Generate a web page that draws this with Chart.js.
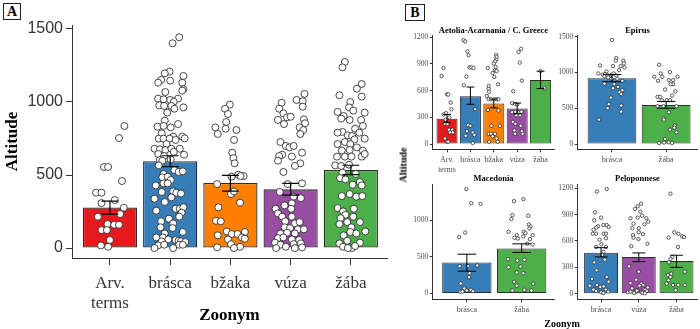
<!DOCTYPE html>
<html>
<head>
<meta charset="utf-8">
<script src="https://cdn.jsdelivr.net/npm/chart.js@4.4.1/dist/chart.umd.min.js"></script>
<style>
  body { margin: 0; background: #fff; width: 700px; height: 329px; position: relative; overflow: hidden; }
  canvas { position: absolute; }
  .tag { position: absolute; box-sizing: border-box; border: 1.3px solid #222; font: bold 14px "Liberation Serif", serif;
         display: flex; align-items: center; justify-content: center; background: #fff; }
  .lab { position: absolute; font: bold 10px "Liberation Serif", serif; color: #000; white-space: nowrap; }
</style>
</head>
<body>
<div class="tag" style="left:3px;top:3px;width:18px;height:17px;">A</div>
<div class="tag" style="left:405px;top:4px;width:20px;height:17px;">B</div>
<canvas id="panelA" width="392" height="329" style="left:0;top:0"></canvas>
<canvas id="aet" width="165" height="155" style="left:392px;top:20px"></canvas>
<canvas id="epi" width="160" height="155" style="left:540px;top:20px"></canvas>
<canvas id="mac" width="165" height="159" style="left:392px;top:170px"></canvas>
<canvas id="pel" width="160" height="159" style="left:540px;top:170px"></canvas>
<div class="lab" style="left:403px;top:165px;transform:translate(-50%,-50%) rotate(-90deg);">Altitude</div>
<div class="lab" style="left:562px;top:323px;transform:translate(-50%,-50%);">Zoonym</div>
<script>
// ---- panel A: all regions pooled ----
const zoonyms = ['Arv. terms', 'brásca', 'bžaka', 'vúza', 'žába'];
const meanAll = [278, 595, 445, 402, 535];
const lowAll = [233, 558, 390, 362, 503];
const highAll = [322, 632, 498, 443, 567];

const allArv = [836,753,555,555,459,379,379,329,308,276,215,233,164,123,123,160,160,55,18,9];
const allArvJit = [0.24,0.15,-0.10,-0.03,0.20,-0.23,-0.14,0.08,-0.14,0.23,-0.20,0.17,-0.04,-0.14,-0.05,0.07,0.15,0.00,-0.15,-0.03];
const allBrasca = [1443,1402,1208,1196,1178,1151,1146,1132,1132,1087,
  1068,1078,1023,1018,1014,1023,1002,977,973,973,
  963,954,927,872,849,831,836,826,785,763,
  763,749,749,749,740,751,712,680,676,671,
  680,680,644,658,630,639,603,607,
  598,566,507,484,489,534,521,525,466,429,
  443,443,384,388,379,374,347,338,315,256,
  269,269,279,242,215,183,201,169,142,137,
  110,100,73,73,59,55,46,50,46,41,
  18,23,23,23,0,0];
const allBrascaJit = [0.15,0.04,-0.01,-0.09,0.22,-0.15,0.0,0.2,-0.2,0.22,
  -0.08,0.2,-0.2,-0.11,0.0,0.13,0.06,-0.18,-0.1,0.02,
  0.22,0.07,-0.05,-0.09,0.13,-0.21,-0.11,0.01,-0.14,0.05,
  0.2,-0.19,-0.11,-0.01,0.09,0.24,-0.06,-0.26,-0.17,-0.08,
  0.02,0.16,-0.2,0.06,-0.1,0.23,-0.17,0.01,
  -0.13,-0.19,-0.11,-0.13,-0.04,0.07,0.14,0.21,0.01,-0.24,
  -0.11,-0.04,-0.14,0.05,0.10,0.18,0.02,-0.26,-0.09,-0.23,
  0.09,0.16,0.22,0.19,0.15,-0.15,-0.02,0.05,-0.16,0.04,
  0.21,-0.09,-0.12,-0.23,-0.03,0.09,-0.14,0.14,0.18,0.25,
  -0.20,-0.10,0.15,0.21,-0.26,0.05];
const allBzaka = [982,954,918,863,826,781,817,808,740,653,616,580,502,489,493,493,438,370,388,311,
  279,187,183,87,114,96,96,110,59,73,64,27,9,5,0];
const allBzakaJit = [-0.01,-0.09,-0.04,-0.07,-0.25,-0.21,-0.08,0.10,0.06,0.03,0.05,0.07,0.13,0.02,0.22,0.17,-0.22,0.01,0.06,0.16,
  -0.20,-0.24,-0.16,-0.21,-0.06,0.02,0.12,0.24,-0.04,0.19,0.24,0.01,0.16,-0.22,0.06];
const allVuza = [1055,1014,1005,995,968,954,922,895,877,899,
  881,854,849,826,808,781,726,699,689,699,
  639,630,626,653,598,580,562,521,438,443,
  384,352,306,342,292,269,237,269,215,183,
  215,169,178,142,137,128,128,100,105,100,
  68,73,59,55,37,23,9,27,32,0,
  5,0];
const allVuzaJit = [0.23,0.10,0.2,-0.15,0.2,-0.19,-0.12,-0.06,-0.21,0.0,
  0.22,0.24,-0.11,0.15,0.21,0.16,-0.17,-0.08,-0.02,0.05,
  -0.14,-0.19,0.02,0.19,-0.21,0.16,0.07,-0.12,-0.05,0.19,
  -0.18,0.05,0.02,0.17,-0.1,-0.25,-0.21,0.01,-0.14,-0.09,
  0.02,0.07,0.15,-0.1,-0.01,0.12,0.22,-0.17,-0.06,0.07,
  -0.21,-0.12,0.02,0.14,-0.26,-0.17,-0.08,0.05,0.17,0.07,
  0.19,-0.24];
const allZaba = [1274,1237,1123,1091,1046,1037,1000,963,941,932,
  927,904,886,877,877,836,817,795,790,772,
  767,790,749,726,712,744,712,689,671,667,
  667,626,626,626,626,644,566,562,571,516,
  507,479,470,452,429,434,370,352,356,356,
  274,251,269,228,205,215,178,178,164,142,
  110,87,100,114,50,37,32,0,9,14,
  0];
const allZabaJit = [-0.10,-0.14,0.18,0.10,-0.19,0.18,-0.01,-0.03,0.04,-0.22,
  0.23,-0.12,-0.16,-0.02,0.17,0.20,0.07,-0.14,-0.22,-0.05,
  0.02,0.14,0.23,-0.10,-0.22,0.06,-0.01,0.10,-0.02,0.20,
  -0.15,-0.23,-0.10,0.01,0.18,0.23,-0.26,-0.16,-0.03,-0.14,
  0.08,-0.18,-0.09,0.15,0.18,0.03,-0.02,0.09,-0.15,0.19,
  -0.22,-0.13,0.05,-0.09,-0.17,0.04,-0.06,0.15,-0.19,0.01,
  -0.01,-0.12,0.09,0.24,-0.06,0.15,-0.19,0.02,-0.13,0.07,
  -0.05];
const ticksAllY = [0, 500, 1000, 1500];

// ---- panel B: Aetolia-Acarnania / C. Greece ----
const aetCats = ['Arv. terms', 'brásca', 'bžaka', 'vúza', 'žába'];
const aetMean = [285, 537, 455, 399, 720];
const aetLow = [240, 447, 406, 340, 623];
const aetHigh = [333, 640, 505, 460, 818];
const aetArv = [854,764,559,556,466,390,347,332,300,272,227,227,160,160,131,131,63,26,26];
const aetArvJit = [-0.15,-0.23,0.0,0.05,0.16,0.19,-0.04,-0.15,0.1,-0.06,-0.09,0.02,0.08,0.22,0.13,0.25,-0.09,0.0,0.05];
const aetBrasca = [1167,1152,1040,996,861,861,855,757,660,391,212,205,145,130,93,101,11];
const aetBrascaJit = [-0.3,-0.22,-0.13,-0.08,-0.04,0.04,0.13,-0.17,-0.28,0.2,-0.1,0.0,-0.15,0.1,-0.2,0.17,0.1];
const aetBzaka = [854,999,977,947,928,903,865,828,820,798,753,671,652,619,589,540,503,503,503,503,
  503,384,377,205,205,115,115,115,86,63,26,26];
const aetBzakaJit = [-0.26,0.1,0.12,0.1,0.05,0.0,0.08,0.05,0.12,-0.05,0.02,0.18,-0.22,-0.22,-0.2,-0.3,-0.22,-0.12,0.02,0.12,
  0.2,-0.25,0.2,-0.1,0.26,-0.22,-0.12,0.05,-0.05,0.12,-0.2,0.17];
const aetVuza = [1070,1033,914,712,593,459,452,444,358,362,358,362,324,324,249,227,205,153,145,115,115];
const aetVuzaJit = [0.17,0.06,0.11,0.2,-0.17,-0.22,-0.1,0.0,-0.22,-0.08,0.06,0.18,-0.03,0.12,-0.19,-0.08,0.15,-0.12,0.2,-0.09,0.23];
const aetZaba = [820, 626];
const aetZabaJit = [0.0, 0.17];
const aetTicksY = [0, 300, 600, 900, 1200];

// ---- Epirus ----
const epiCats = ['brásca', 'žába'];
const epiMean = [921, 547];
const epiLow = [870, 500];
const epiHigh = [970, 595];
const epiBrasca = [1454,1202,1164,1164,1126,1098,1089,1089,1070,1033,986,1014,977,968,958,968,986,958,930,949,
  912,912,884,846,837,799,781,753,725,697,649,557,501,537,453,341];
const epiBrascaJit = [0.0,0.08,0.07,0.21,0.22,-0.22,0.02,0.16,0.23,0.13,-0.25,-0.1,-0.13,-0.17,-0.08,-0.01,0.03,0.08,-0.07,-0.14,
  -0.01,0.1,0.19,-0.14,0.04,0.11,0.02,0.19,0.14,0.17,-0.02,-0.06,-0.08,0.17,0.17,-0.24];
const epiZaba = [1107,1005,986,940,940,884,894,894,940,837,837,762,734,678,659,659,612,612,612,528,
  528,528,444,360,340,257,229,201,164,70,14,23,20,14];
const epiZabaJit = [-0.13,0.07,-0.1,-0.22,-0.07,-0.15,0.05,0.13,0.21,0.13,0.08,-0.02,0.17,0.11,-0.16,-0.11,0.01,0.07,-0.08,-0.16,
  -0.05,0.19,0.05,-0.05,-0.04,0.16,0.15,0.07,0.19,-0.02,-0.13,0.05,-0.04,0.11];
const epiTicksY = [0, 500, 1000, 1500];

// ---- Macedonia ----
const macCats = ['brásca', 'žába'];
const macMean = [425, 616];
const macLow = [305, 562];
const macHigh = [538, 680];
const macBrasca = [1429,1237,1228,835,772,374,384,374,278,224,137,68,41,23,27,50,32];
const macBrascaJit = [-0.01,0.08,0.25,-0.03,-0.14,0.02,0.19,-0.13,0.05,0.04,-0.11,-0.05,0.0,-0.12,-0.08,0.07,0.11];
const macZaba = [1292,1265,1073,1064,1018,945,918,890,845,845,826,799,799,763,753,781,744,681,671,470,
  452,461,360,370,288,278,160,105,133,41,50,41];
const macZabaJit = [0.03,-0.14,-0.17,0.12,-0.19,0.13,0.16,0.14,-0.24,0.04,0.07,-0.09,0.2,-0.13,-0.07,0.03,0.15,0.1,0.2,-0.25,
  -0.08,0.05,-0.24,-0.02,-0.09,0.03,-0.14,-0.09,0.21,-0.17,0.05,0.18];
const macTicksY = [0, 500, 1000];

// ---- Peloponnese ----
const pelCats = ['brásca', 'vúza', 'žába'];
const pelMean = [467, 418, 372];
const pelLow = [418, 365, 300];
const pelHigh = [524, 464, 438];
const pelBrasca = [1162,1192,927,866,836,768,752,729,782,760,782,683,683,683,683,615,631,563,532,532,
  478,441,387,357,266,167,190,137,99,91,76,83,46,31,15,46,23,8];
const pelBrascaJit = [-0.11,0.15,-0.16,0.0,-0.18,-0.08,-0.13,-0.2,0.15,0.2,0.06,-0.22,-0.13,0.07,0.13,-0.04,0.13,0.01,-0.13,0.13,
  0.06,0.03,0.1,-0.18,-0.12,-0.24,0.15,0.2,-0.11,-0.3,-0.02,0.07,-0.2,-0.13,0.0,0.13,0.19,0.06];
const pelVuza = [1025,995,965,934,859,866,888,859,797,790,820,745,745,677,668,638,623,699,540,569,
  312,251,159,114,99,91,46,39,23,16,23,46,16,23,60,30,8,70,120,10,35,5];
const pelVuzaJit = [0.06,-0.03,-0.1,0.04,-0.22,-0.03,0.09,0.2,-0.14,0.15,0.25,0.0,-0.17,0.11,-0.15,-0.14,-0.01,0.0,-0.2,0.23,
  -0.26,0.0,-0.07,0.07,0.12,0.02,0.14,-0.03,-0.17,0.07,-0.08,0.18,-0.29,-0.22,-0.18,0.21,-0.12,0.24,-0.22,0.1,-0.05,0.16];
const pelZaba = [1139,699,683,654,645,638,532,418,395,357,251,213,228,190,153,114,99,99,99,39];
const pelZabaJit = [-0.16,-0.06,0.05,0.15,0.2,-0.21,0.04,-0.11,-0.16,-0.2,0.22,-0.23,-0.14,-0.16,-0.21,-0.26,-0.09,0.05,0.22,-0.02];
const pelTicksY = [0, 300, 600, 900, 1200];

const palette = { 'Arv. terms': '#E41A1C', 'brásca': '#377EB8', 'bžaka': '#FF7F00', 'vúza': '#984EA3', 'žába': '#4DAF4A' };

function errorBars(lows, highs, cap, width) {
  return {
    id: 'errbars',
    afterDatasetsDraw(chart) {
      const { ctx } = chart;
      const x = chart.scales.x, y = chart.scales.y;
      ctx.save();
      ctx.strokeStyle = '#000';
      ctx.lineWidth = width;
      lows.forEach((lo, i) => {
        const xc = x.getPixelForValue(i);
        const x0 = x.getPixelForValue(i - cap), x1 = x.getPixelForValue(i + cap);
        const yl = y.getPixelForValue(lo), yh = y.getPixelForValue(highs[i]);
        ctx.beginPath();
        ctx.moveTo(xc, yl); ctx.lineTo(xc, yh);
        ctx.moveTo(x0, yl); ctx.lineTo(x1, yl);
        ctx.moveTo(x0, yh); ctx.lineTo(x1, yh);
        ctx.stroke();
      });
      ctx.restore();
    }
  };
}

function panel(id, cats, means, lows, highs, groups, jitters, yMin, yMax, yTicks, xMin, xMax, look) {
  const pts = [];
  groups.forEach((vals, k) => vals.forEach((v, i) => pts.push({ x: k + (jitters[k][i] || 0), y: v })));
  const serif = 'Liberation Serif';
  return new Chart(document.getElementById(id), {
    type: 'bar',
    data: {
      datasets: [
        {
          type: 'scatter', data: pts, order: 1,
          pointRadius: look.r, pointHoverRadius: look.r, pointBorderWidth: look.pw,
          pointBackgroundColor: '#fff', pointBorderColor: '#1a1a1a'
        },
        {
          type: 'bar', order: 2,
          data: means.map((m, i) => ({ x: i, y: m })),
          backgroundColor: cats.map(c => palette[c]),
          borderColor: '#2e2e2e', borderWidth: look.bw, borderSkipped: false,
          barPercentage: 0.9, categoryPercentage: 1
        }
      ]
    },
    options: {
      responsive: false, animation: false, events: [], devicePixelRatio: 1,
      layout: { padding: look.pad },
      plugins: {
        legend: { display: false },
        tooltip: { enabled: false },
        title: look.title ? {
          display: true, text: look.title, fullSize: false, padding: 0, color: '#000',
          font: { family: serif, size: 8.5, weight: 'bold', lineHeight: 1.2 }
        } : { display: false }
      },
      scales: {
        x: {
          type: 'linear', min: xMin, max: xMax, offset: false,
          afterBuildTicks: s => { s.ticks = cats.map((c, i) => ({ value: i })); },
          afterFit: s => { s.height = look.xh; },
          ticks: {
            callback: v => cats[v].split(' '), autoSkip: false, maxRotation: 0, minRotation: 0,
            color: look.xTickColor, padding: look.xPad,
            font: { family: serif, size: look.xFont, lineHeight: 1.2 }
          },
          grid: { display: true, offset: false, drawOnChartArea: false, drawTicks: true, tickLength: look.tl, tickColor: '#333', tickWidth: 1 },
          border: { display: true, color: '#333', width: 1 },
          title: look.xTitle ? {
            display: true, text: look.xTitle, color: '#000', padding: { top: 0, bottom: 3 },
            font: { family: serif, size: 17, weight: 'bold', lineHeight: 1.2 }
          } : { display: false }
        },
        y: {
          min: yMin, max: yMax,
          afterBuildTicks: s => { s.ticks = yTicks.map(v => ({ value: v })); },
          afterFit: s => { s.width = look.yw; },
          ticks: {
            callback: v => String(v), color: look.yTickColor, padding: look.yPad,
            font: { family: look.yFamily, size: look.yFont }
          },
          grid: { display: true, drawOnChartArea: false, drawTicks: true, tickLength: look.ytl, tickColor: '#333', tickWidth: 1 },
          border: { display: true, color: '#333', width: 1 },
          title: look.yTitle ? {
            display: true, text: look.yTitle, color: '#000', padding: { top: 2, bottom: 0 },
            font: { family: serif, size: 17, weight: 'bold', lineHeight: 1.2 }
          } : { display: false }
        }
      }
    },
    plugins: [errorBars(lows, highs, look.cap, look.ew)]
  });
}

const lookA = {
  r: 3.5, pw: 0.8, bw: 1.3, cap: 0.14, ew: 1.2,
  pad: { left: 0, right: 5, top: 25, bottom: 0 }, xh: 71, yw: 72,
  xFont: 17, xPad: 8, tl: 7, xTickColor: '#333',
  yFont: 16, yPad: 3, ytl: 6, yTickColor: '#333', yFamily: 'Liberation Sans',
  xTitle: 'Zoonym', yTitle: 'Altitude'
};
panel('panelA', zoonyms, meanAll, lowAll, highAll,
  [allArv, allBrasca, allBzaka, allVuza, allZaba],
  [allArvJit, allBrascaJit, allBzakaJit, allVuzaJit, allZabaJit],
  -68, 1527, ticksAllY, -0.63, 4.6, lookA);

function lookB(title, yw, padTop, padRight, xh) {
  return {
    r: 1.7, pw: 0.7, bw: 1, cap: 0.17, ew: 1,
    pad: { left: 0, right: padRight, top: padTop, bottom: 0 }, xh: xh, yw: yw,
    xFont: 8, xPad: 3, tl: 3, xTickColor: '#4d4d4d',
    yFont: 7.5, yPad: 1.5, ytl: 2.5, yTickColor: '#4d4d4d', yFamily: 'Liberation Serif',
    title: title
  };
}
panel('aet', aetCats, aetMean, aetLow, aetHigh,
  [aetArv, aetBrasca, aetBzaka, aetVuza, aetZaba],
  [aetArvJit, aetBrascaJit, aetBzakaJit, aetVuzaJit, aetZabaJit],
  -59, 1219, aetTicksY, -0.63, 4.6, lookB('Aetolia-Acarnania / C. Greece', 40.3, 5.3, 2, 25.7));
panel('epi', epiCats, epiMean, epiLow, epiHigh,
  [epiBrasca, epiZaba], [epiBrascaJit, epiZabaJit],
  -74, 1517, epiTicksY, -0.64, 1.58, lookB('Epirus', 37.3, 5.3, 0, 25.7));
panel('mac', macCats, macMean, macLow, macHigh,
  [macBrasca, macZaba], [macBrascaJit, macZabaJit],
  -80, 1500, macTicksY, -0.63, 1.6, lookB('Macedonia', 40.3, 3.8, 2, 29.7));
panel('pel', pelCats, pelMean, pelLow, pelHigh,
  [pelBrasca, pelVuza, pelZaba], [pelBrascaJit, pelVuzaJit, pelZabaJit],
  -64, 1249, pelTicksY, -0.63, 2.56, lookB('Peloponnese', 37.3, 3.8, 0, 29.7));
</script>
</body>
</html>
